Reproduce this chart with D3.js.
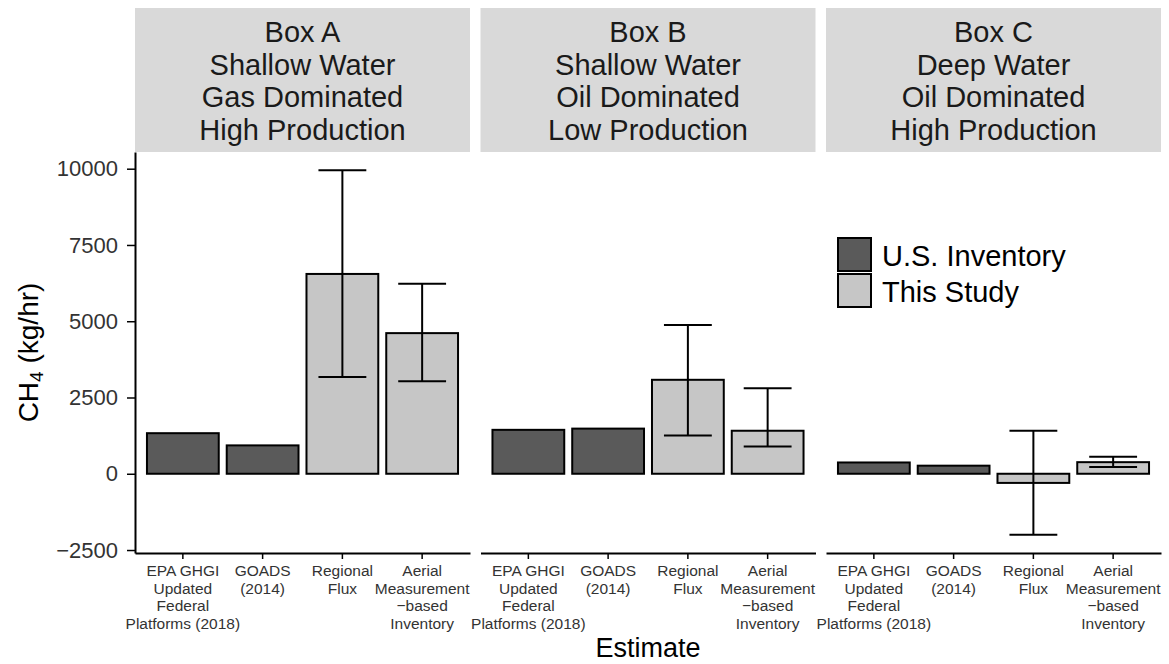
<!DOCTYPE html>
<html>
<head>
<meta charset="utf-8">
<script src="https://cdn.jsdelivr.net/npm/d3@7"></script>
<style>
  body { margin: 0; background: #fff; }
  svg { display: block; font-family: "Liberation Sans", Arial, sans-serif; }
</style>
</head>
<body>
<svg width="1169" height="664"></svg>
<script>
// data
var categories = ["EPA", "GOADS", "Regional", "Aerial"];
var tickLabels = [
    ["EPA GHGI", "Updated", "Federal", "Platforms (2018)"],
    ["GOADS", "(2014)"],
    ["Regional", "Flux"],
    ["Aerial", "Measurement", "\u2212based", "Inventory"]
];
var sources = ["U.S. Inventory", "U.S. Inventory", "This Study", "This Study"];
var boxes = ["A", "B", "C"];
var stripLabels = [
    ["Box A", "Shallow Water", "Gas Dominated", "High Production"],
    ["Box B", "Shallow Water", "Oil Dominated", "Low Production"],
    ["Box C", "Deep Water", "Oil Dominated", "High Production"]
];
var valuesA = [1330, 930, 6550, 4610];
var lowerA = [null, null, 3170, 3030];
var upperA = [null, null, 9950, 6230];
var valuesB = [1440, 1480, 3080, 1410];
var lowerB = [null, null, 1255, 895];
var upperB = [null, null, 4880, 2800];
var valuesC = [370, 265, -300, 380];
var lowerC = [null, null, -2000, 220];
var upperC = [null, null, 1410, 560];
var yTicks = [-2500, 0, 2500, 5000, 7500, 10000];
var legendKeys = ["U.S. Inventory", "This Study"];

var fills = {"U.S. Inventory": "#5a5a5a", "This Study": "#c6c6c6"};

var panels = [
    {values: valuesA, lower: lowerA, upper: upperA},
    {values: valuesB, lower: lowerB, upper: upperB},
    {values: valuesC, lower: lowerC, upper: upperC}
];

var svg = d3.select("svg");

var left = 135, panelW = 335, gap = 10.5;
var panelTop = 152, panelBottom = 553, stripTop = 8;

// y range like ggplot: data range plus 5% each side
var all = [];
panels.forEach(function (p) {
    p.values.forEach(function (v, i) {
        all.push(v, 0);
        if (p.lower[i] != null) all.push(p.lower[i], p.upper[i]);
    });
});
var lo = d3.min(all), hi = d3.max(all), pad = (hi - lo) * 0.05;
var y = d3.scaleLinear().domain([lo - pad, hi + pad]).range([panelBottom, panelTop]);

panels.forEach(function (p, k) {
    var x0 = left + k * (panelW + gap);
    var x = d3.scaleBand().domain(categories).range([x0, x0 + panelW])
        .paddingInner(0.1).paddingOuter(0.15);

    // strip
    svg.append("rect")
        .attr("x", x0).attr("y", stripTop)
        .attr("width", panelW).attr("height", panelTop - stripTop)
        .attr("fill", "#d9d9d9");
    var st = svg.append("text")
        .attr("x", x0 + panelW / 2).attr("y", 42)
        .attr("text-anchor", "middle")
        .attr("font-size", 29).attr("fill", "#1a1a1a");
    stripLabels[k].forEach(function (line, j) {
        st.append("tspan").attr("x", x0 + panelW / 2).attr("dy", j == 0 ? 0 : 32.5).text(line);
    });

    var g = svg.append("g");
    g.selectAll(".bar")
        .data(p.values)
        .enter().append("rect")
        .attr("class", "bar")
        .attr("x", function (d, i) { return x(categories[i]); })
        .attr("y", function (d) { return y(Math.max(0, d)); })
        .attr("width", x.bandwidth())
        .attr("height", function (d) { return Math.abs(y(d) - y(0)); })
        .attr("fill", function (d, i) { return fills[sources[i]]; })
        .attr("stroke", "#000")
        .attr("stroke-width", 2);

    var cap = x.step() * 0.3;
    p.values.forEach(function (d, i) {
        if (p.lower[i] == null) return;
        var cx = x(categories[i]) + x.bandwidth() / 2;
        var eb = g.append("g").attr("stroke", "#000").attr("stroke-width", 2);
        eb.append("line").attr("x1", cx).attr("x2", cx)
            .attr("y1", y(p.lower[i])).attr("y2", y(p.upper[i]));
        eb.append("line").attr("x1", cx - cap).attr("x2", cx + cap)
            .attr("y1", y(p.lower[i])).attr("y2", y(p.lower[i]));
        eb.append("line").attr("x1", cx - cap).attr("x2", cx + cap)
            .attr("y1", y(p.upper[i])).attr("y2", y(p.upper[i]));
    });

    // x axis
    var ax = svg.append("g")
        .attr("transform", "translate(0," + panelBottom + ")")
        .call(d3.axisBottom(x).tickSize(6).tickSizeOuter(0).tickFormat(""));
    ax.select(".domain").attr("stroke-width", 2);
    ax.selectAll(".tick line").attr("stroke-width", 1.5);
    ax.selectAll(".tick").each(function (d, i) {
        var t = d3.select(this).select("text")
            .attr("font-size", 15.5).attr("fill", "#333").attr("y", 0).attr("dy", null)
            .attr("font-family", "'Liberation Sans', Arial, sans-serif");
        tickLabels[i].forEach(function (line, j) {
            t.append("tspan").attr("x", 0).attr("y", 23 + j * 17.7).text(line);
        });
    });

    if (k == 0) {
        var ay = svg.append("g")
            .attr("transform", "translate(" + x0 + ",0)")
            .call(d3.axisLeft(y).tickValues(yTicks).tickFormat(d3.format("d"))
                .tickSize(8).tickSizeOuter(0).tickPadding(9));
        ay.select(".domain").attr("stroke-width", 2);
        ay.selectAll(".tick line").attr("stroke-width", 1.5);
        ay.selectAll(".tick text").attr("font-size", 22).attr("fill", "#333")
            .attr("font-family", "'Liberation Sans', Arial, sans-serif");
    }

    if (k == 2) {
        var lg = svg.append("g").attr("transform", "translate(838,238)");
        legendKeys.forEach(function (key, j) {
            lg.append("rect").attr("x", 0).attr("y", j * 36)
                .attr("width", 33).attr("height", 33)
                .attr("fill", fills[key]).attr("stroke", "#000").attr("stroke-width", 2);
            lg.append("text").attr("x", 44).attr("y", j * 36 + 28)
                .attr("font-size", 29).attr("fill", "#000").text(key);
        });
    }
});

// axis titles
var yt = svg.append("text")
    .attr("transform", "translate(38," + ((panelTop + panelBottom) / 2) + ") rotate(-90)")
    .attr("text-anchor", "middle")
    .attr("font-size", 28).attr("fill", "#000");
yt.append("tspan").text("CH");
yt.append("tspan").attr("font-size", 19).attr("dy", 5).text("4");
yt.append("tspan").attr("dy", -5).text(" (kg/hr)");

svg.append("text")
    .attr("x", left + (3 * panelW + 2 * gap) / 2).attr("y", 657)
    .attr("text-anchor", "middle")
    .attr("font-size", 27).attr("fill", "#000")
    .text("Estimate");
</script>
</body>
</html>
